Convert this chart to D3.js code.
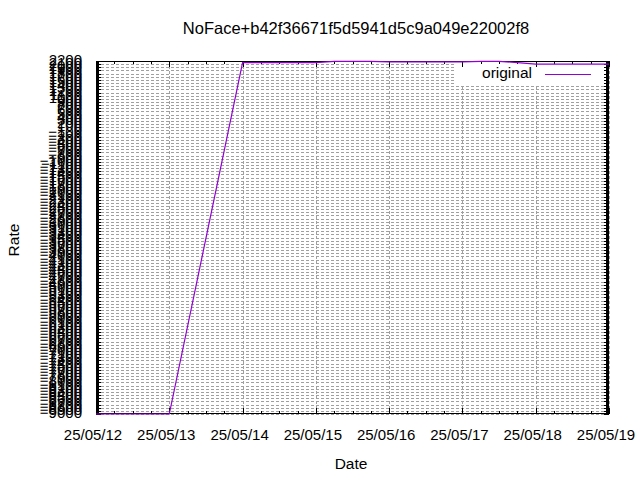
<!DOCTYPE html>
<html><head><meta charset="utf-8">
<script src="https://cdn.jsdelivr.net/npm/d3@7"></script>
<style>body{margin:0;background:#fff}svg{display:block}text{font-family:"Liberation Sans",Arial,sans-serif;fill:#000}</style>
</head><body>
<svg id="c" width="640" height="480"></svg>
<script>
const title = "NoFace+b42f36671f5d5941d5c9a049e22002f8";
const seriesName = "original";
const dates = ["2025-05-12T00:00","2025-05-13T00:00","2025-05-14T00:00","2025-05-15T00:00","2025-05-15T06:00","2025-05-15T18:00","2025-05-16T00:00","2025-05-17T00:00","2025-05-17T06:00","2025-05-17T12:00","2025-05-17T18:00","2025-05-18T00:00","2025-05-19T00:00"];
const values = [-9000,-9000,2150,2150,2190,2190,2175,2175,2190,2190,2150,2100,2100];
const yMin = -9000, yMax = 2200, yStep = 100;
const xTickDays = ["2025-05-12","2025-05-13","2025-05-14","2025-05-15","2025-05-16","2025-05-17","2025-05-18","2025-05-19"];

const W=640,H=480, L=96, R=609, T=61, B=414;
const parse = d3.utcParse("%Y-%m-%dT%H:%M"), parseD = d3.utcParse("%Y-%m-%d");
const data = dates.map((d,i)=>({t:parse(d), v:values[i]}));
const xt = xTickDays.map(parseD);
const x = d3.scaleUtc().domain([xt[0], xt[xt.length-1]]).range([L,R]);
const y = d3.scaleLinear().domain([yMin,yMax]).range([B,T]);
const yTicks = d3.range(yMin, yMax+yStep/2, yStep);
const minorX = d3.utcHour.every(6).range(xt[0], xt[xt.length-1]);
const svg = d3.select("#c");
const fmt = d3.utcFormat("%y/%m/%d");

// grid
const g = svg.append("g");
g.selectAll(".hg").data(yTicks).join("line").attr("x1",L).attr("x2",R).attr("y1",d=>Math.round(y(d))+0.5).attr("y2",d=>Math.round(y(d))+0.5)
 .attr("stroke","#a0a0a0").attr("stroke-width",1).attr("stroke-dasharray","3,2");
g.selectAll(".vg").data(xt).join("line").attr("y1",T).attr("y2",B).attr("x1",d=>Math.round(x(d))+0.5).attr("x2",d=>Math.round(x(d))+0.5)
 .attr("stroke","#a0a0a0").attr("stroke-width",1).attr("stroke-dasharray","3,2");

// legend background
svg.append("rect").attr("x",455).attr("y",64).attr("width",150).attr("height",21).attr("fill","#fff");

// ticks
const tk = svg.append("g").attr("stroke","#000").attr("stroke-width",1);
tk.selectAll(".yl").data(yTicks).join("line").attr("x1",L).attr("x2",L+5).attr("y1",d=>Math.round(y(d))+0.5).attr("y2",d=>Math.round(y(d))+0.5);
tk.selectAll(".yr").data(yTicks).join("line").attr("x1",R-5).attr("x2",R).attr("y1",d=>Math.round(y(d))+0.5).attr("y2",d=>Math.round(y(d))+0.5);
tk.selectAll(".xb").data(minorX.concat(xt)).join("line").attr("y1",B).attr("y2",d=>B-(xt.some(e=>+e===+d)?6:3)).attr("x1",d=>Math.round(x(d))+0.5).attr("x2",d=>Math.round(x(d))+0.5);
tk.selectAll(".xt").data(minorX.concat(xt)).join("line").attr("y1",T).attr("y2",d=>T+(xt.some(e=>+e===+d)?6:3)).attr("x1",d=>Math.round(x(d))+0.5).attr("x2",d=>Math.round(x(d))+0.5);

// border
svg.append("rect").attr("x",L+0.5).attr("y",T+0.5).attr("width",R-L-1).attr("height",B-T-1).attr("fill","none").attr("stroke","#000");
svg.append("rect").attr("x",L).attr("y",T).attr("width",3).attr("height",B-T).attr("fill","#000");
svg.append("rect").attr("x",R-3).attr("y",T).attr("width",3).attr("height",B-T).attr("fill","#000");

// line
svg.append("path").datum(data).attr("fill","none").attr("stroke","#9400d3").attr("stroke-width",1.2)
 .attr("d", d3.line().x(d=>x(d.t)).y(d=>y(d.v)));

// legend
svg.append("text").attr("x",532).attr("y",74).attr("text-anchor","end").attr("dominant-baseline","middle").style("font-size","15.5px").text(seriesName);
svg.append("line").attr("x1",545).attr("x2",591).attr("y1",74.5).attr("y2",74.5).attr("stroke","#9400d3").attr("stroke-width",1.2);

// y labels
svg.append("g").selectAll("text").data(yTicks).join("text").attr("x",82).attr("y",d=>y(d)).attr("text-anchor","end").attr("dominant-baseline","middle").style("font-size","15px").text(d=>d3.format("d")(d));
// x labels
svg.append("g").selectAll("text").data(xt).join("text").attr("x",d=>x(d)-3).attr("y",436).attr("text-anchor","middle").attr("dominant-baseline","middle").style("font-size","15px").text(d=>fmt(d));

svg.append("text").attr("x",356).attr("y",30).attr("text-anchor","middle").attr("dominant-baseline","middle").style("font-size","16.5px").text(title);
svg.append("text").attr("x",351).attr("y",465).attr("text-anchor","middle").attr("dominant-baseline","middle").style("font-size","15.5px").text("Date");
svg.append("text").attr("transform","translate(15,240) rotate(-90)").attr("text-anchor","middle").attr("dominant-baseline","middle").style("font-size","15.5px").text("Rate");
</script>
</body></html>
